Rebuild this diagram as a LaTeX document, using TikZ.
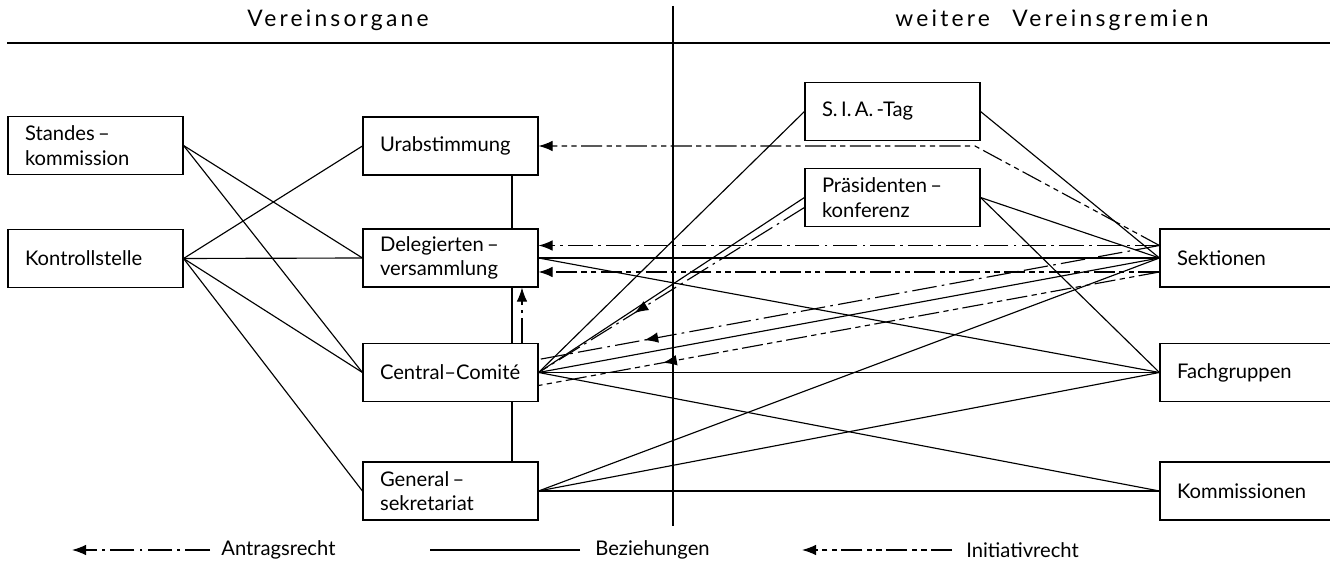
\documentclass[tikz,border=0pt]{standalone}
\usepackage{fontspec}
\setmainfont{Lato}
\newfontfamily\kopffont[LetterSpace=14]{Lato}
\usetikzlibrary{arrows.meta,decorations.markings}

\tikzset{
  organ/.style={draw, line width=0.65pt, minimum height=1.16cm, inner xsep=0.34cm,
    text width=2.82cm, align=left},
  gremium/.style={organ, text width=2.92cm},
  bez/.style={line width=0.65pt},
  antrag/.style={line width=0.65pt, dash pattern=on 14pt off 3pt on 1.5pt off 3pt},
  initiativ/.style={line width=0.65pt, dash pattern=on 12pt off 2.5pt on 3pt off 2.5pt on 3pt off 2.5pt},
  spitze/.style={-{Latex[length=8pt,width=6pt]}},
  midarrow/.style={postaction={decorate}, decoration={markings,
    mark=at position #1 with {\arrow{Latex[length=8pt,width=6pt]}}}},
}

\begin{document}
\begin{tikzpicture}[x=0.02cm,y=-0.02cm,every node/.style={font=\fontsize{11.5}{14}\selectfont}]
\useasboundingbox (0,0) rectangle (1330,563);
\clip (0,0) rectangle (1330,563);

\node[font=\fontsize{13}{15}\kopffont] (kopf1) at (338,20) {Vereinsorgane};
\node[font=\fontsize{13}{15}\kopffont] (kopf2) at (1052,20) {weitere\hspace{0.45cm}Vereinsgremien};
\draw[bez] (7,43) -- (1330,43);
\draw[bez] (673,6) -- (673,526);

\node[organ] (stand) at (95.5,145.5) {Standes\,--\\kommission};
\node[organ] (kontr) at (95.5,258.5) {Kontrollstelle};
\node[organ] (urab) at (450.5,146) {Urabstimmung};
\node[organ] (deleg) at (450.5,258) {Delegierten\,--\\versammlung};
\node[organ] (cc) at (450.5,372.5) {Central--Comité};
\node[organ] (gen) at (450.5,491) {General\,--\\sekretariat};
\node[organ] (sia) at (892.5,111.5) {S.\,I.\,A.\,-Tag};
\node[organ] (praes) at (892.5,197.5) {Präsidenten\,--\\konferenz};
\node[gremium] (sekt) at (1250,258) {Sektionen};
\node[gremium] (fach) at (1250,372.5) {Fachgruppen};
\node[gremium] (komm) at (1250,491) {Kommissionen};

\coordinate (sekt-a) at ([yshift=0.25cm]sekt.west);
\coordinate (sekt-c) at ([yshift=-0.28cm]sekt.west);
\coordinate (deleg-a) at ([yshift=0.25cm]deleg.east);
\coordinate (deleg-c) at ([yshift=-0.28cm]deleg.east);
\coordinate (cc-a) at ([yshift=0.26cm]cc.east);
\coordinate (cc-c) at ([yshift=-0.26cm]cc.east);
\coordinate (praes-c) at ([yshift=-0.2cm]praes.west);
\coordinate (knick) at (975,146);

\draw[bez] (stand.east) -- (deleg.west);
\draw[bez] (stand.east) -- (cc.west);
\draw[bez] (kontr.east) -- (urab.west);
\draw[bez] (kontr.east) -- (deleg.west);
\draw[bez] (kontr.east) -- (cc.west);
\draw[bez] (kontr.east) -- (gen.west);

\draw[bez] ([xshift=1.23cm]urab.south) -- ([xshift=1.23cm]deleg.north);
\draw[bez] ([xshift=1.23cm]deleg.south) -- ([xshift=1.23cm]cc.north);
\draw[bez] ([xshift=1.23cm]cc.south) -- ([xshift=1.23cm]gen.north);
\draw[antrag,spitze] ([xshift=1.43cm]cc.north) -- ([xshift=1.43cm]deleg.south);

\draw[bez] (cc.east) -- (sia.west);
\draw[bez] (cc.east) -- (praes.west);
\draw[bez] (cc.east) -- (sekt.west);
\draw[bez] (cc.east) -- (fach.west);
\draw[bez] (cc.east) -- (komm.west);
\draw[antrag,midarrow=0.64] (praes-c) -- (cc.east);
\draw[antrag,midarrow=0.83] (sekt-a) -- (cc-a);
\draw[initiativ,midarrow=0.8] (sekt-c) -- (cc-c);

\draw[antrag,spitze] (sekt-a) -- (deleg-a);
\draw[bez] (sekt.west) -- (deleg.east);
\draw[initiativ,spitze] (sekt-c) -- (deleg-c);
\draw[bez] (deleg.east) -- (fach.west);
\draw[initiativ,spitze] (sekt-a) -- (knick) -- (urab.east);

\draw[bez] (sia.east) -- (sekt.west);
\draw[bez] (praes.east) -- (sekt.west);
\draw[bez] (praes.east) -- (fach.west);
\draw[bez] (gen.east) -- (sekt.west);
\draw[bez] (gen.east) -- (fach.west);
\draw[bez] (gen.east) -- (komm.west);

\node[anchor=west, inner sep=0pt] (antr) at (221,550) {Antragsrecht};
\node[anchor=west, inner sep=0pt] (bezt) at (595,550) {Beziehungen};
\node[anchor=west, inner sep=0pt] (init) at (966,550) {Initiativrecht};
\coordinate (antr-end) at (72,550);
\coordinate (bezt-end) at (430,550);
\coordinate (init-end) at (802,550);
\draw[antrag,spitze] ([xshift=-0.22cm]antr.west) -- (antr-end);
\draw[bez] ([xshift=-0.3cm]bezt.west) -- (bezt-end);
\draw[initiativ,spitze] ([xshift=-0.28cm]init.west) -- (init-end);
\end{tikzpicture}
\end{document}
